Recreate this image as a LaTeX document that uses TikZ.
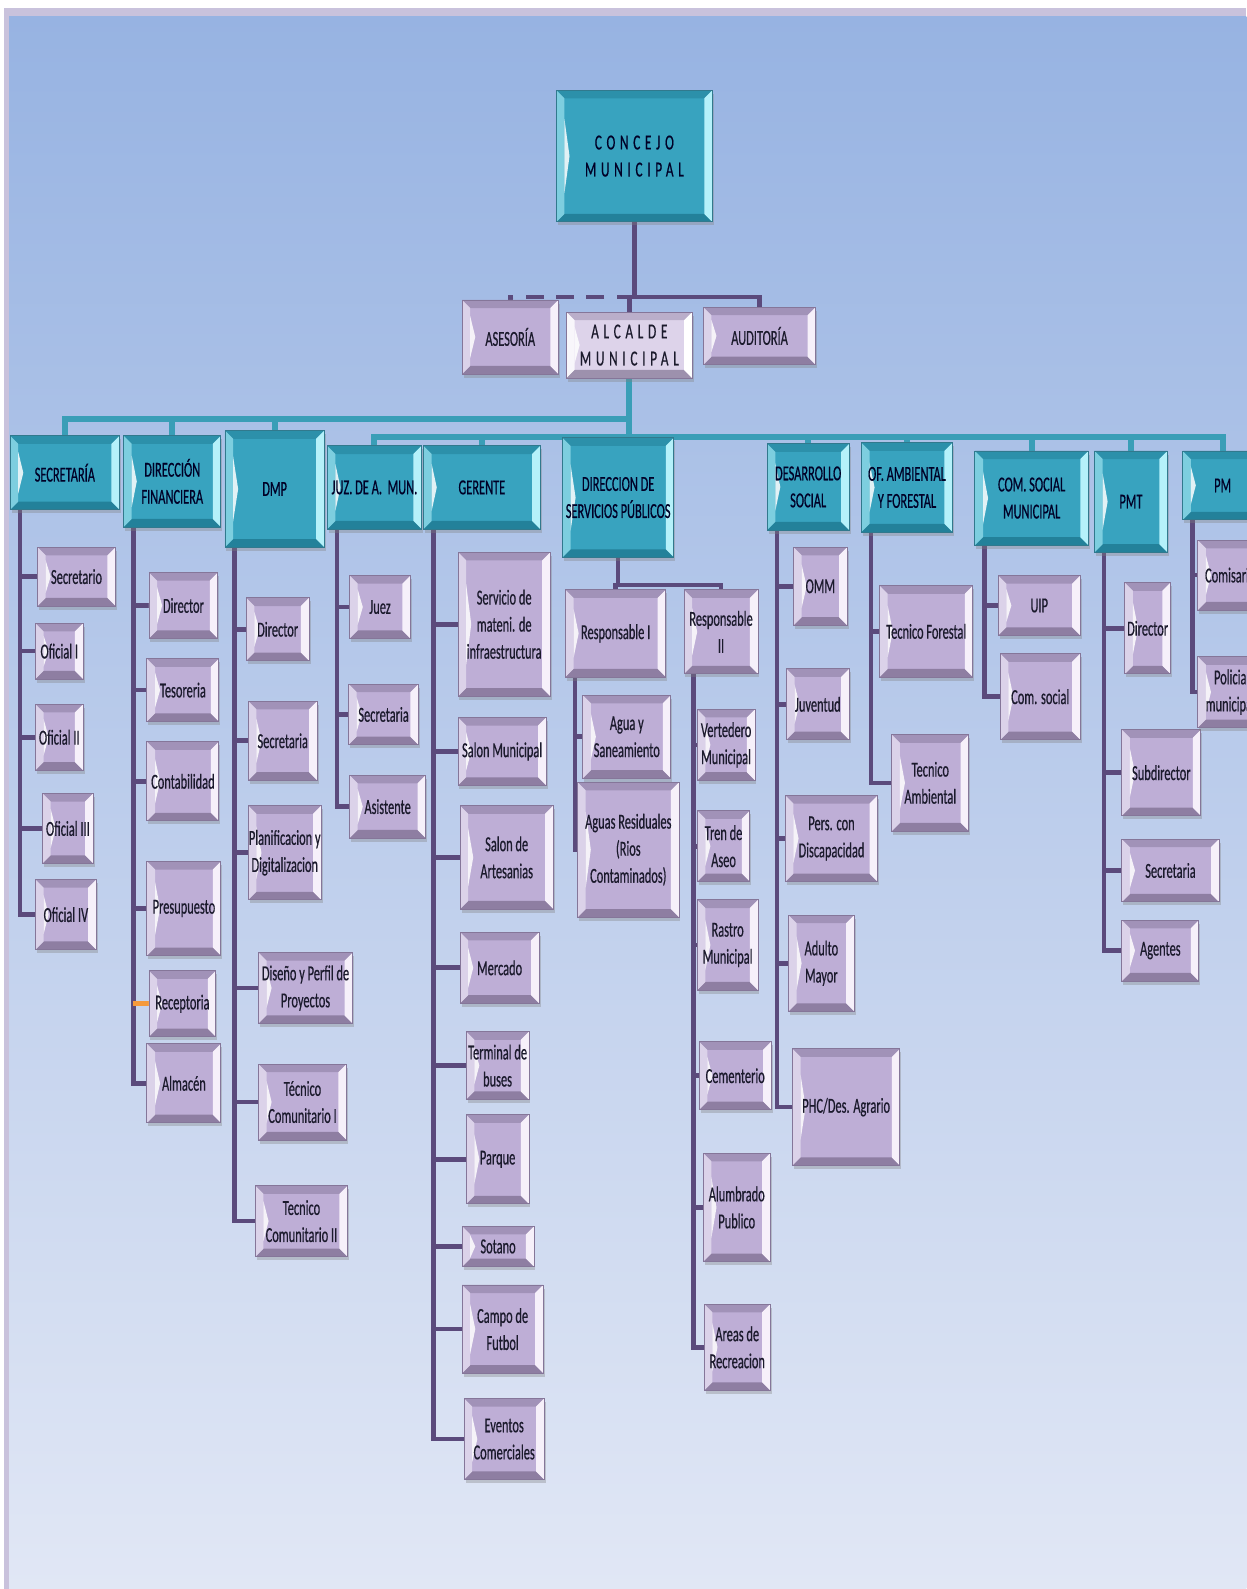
\documentclass[tikz,border=0pt]{standalone}
\usepackage{fontspec}
\setmainfont{Carlito}[FakeStretch=0.58,FakeBold=0.5]
\newfontfamily\wideletters{Carlito}[FakeStretch=0.62,FakeBold=0.5,LetterSpace=22]
\usetikzlibrary{calc,shadows,backgrounds}

\definecolor{bgtop}{HTML}{97B3E2}
\definecolor{bgbot}{HTML}{E1E7F5}
\definecolor{framelav}{HTML}{C9C2DC}
\definecolor{headfill}{HTML}{38A3BF}
\definecolor{headhi}{HTML}{B5F1FA}
\definecolor{headdark}{HTML}{1E7890}
\definecolor{subfill}{HTML}{BEAED6}
\definecolor{subhi}{HTML}{F6F0FA}
\definecolor{subdark}{HTML}{857699}
\definecolor{alcfill}{HTML}{DDD3EA}
\definecolor{linkpurple}{HTML}{5B4A7C}
\definecolor{linkteal}{HTML}{3A9EB7}
\definecolor{stuborange}{HTML}{F59A3C}
\definecolor{txtdark}{HTML}{1B1A2C}

\def\bev{1.6mm}
% bevel of a box: top, bottom, left, right colours
\newcommand\bevelfx[4]{%
  \path (path picture bounding box.south west) coordinate (pbsw)
        (path picture bounding box.north east) coordinate (pbne)
        (path picture bounding box.north west) coordinate (pbnw)
        (path picture bounding box.south east) coordinate (pbse);
  \fill[#1] (pbnw) -- (pbne) -- ($(pbne)+(-\bev,-\bev)$) -- ($(pbnw)+(\bev,-\bev)$) -- cycle;
  \fill[#2] (pbsw) -- (pbse) -- ($(pbse)+(-\bev,\bev)$) -- ($(pbsw)+(\bev,\bev)$) -- cycle;
  \fill[#3] (pbnw) -- (pbsw) -- ($(pbsw)+(\bev,\bev)$) -- ($(pbnw)+(\bev,-\bev)$) -- cycle;
  \fill[#4] (pbne) -- (pbse) -- ($(pbse)+(-\bev,\bev)$) -- ($(pbne)+(-\bev,-\bev)$) -- cycle;
  \fill[white,opacity=.85] ($(pbsw)!.22!(pbnw)+(\bev,0)$) -- ($(pbsw)!.5!(pbnw)+(\bev+1mm,0)$)
        -- ($(pbsw)!.78!(pbnw)+(\bev,0)$) -- cycle;
}

% one box from its corners (x1,y1) (x2,y2) in picture units
\newcommand\orgbox[7]{%
  \node[#1, minimum width={(#5-#3)*0.02cm}, minimum height={(#6-#4)*0.02cm}]
    (#2) at ({(#3+#5)/2},{(#4+#6)/2}) {#7};}

\begin{document}
\begin{tikzpicture}[x=0.02cm, y=-0.02cm,
    base/.style={rectangle, inner sep=0pt, align=center, text=txtdark,
      font=\fontsize{12}{15.2}\selectfont, line width=.5pt,
      drop shadow={shadow xshift=.8pt, shadow yshift=-2pt, opacity=.35}},
    head/.style={base, fill=headfill, draw=headdark!80!gray, text=black!85!blue,
      path picture={\bevelfx{headdark!45!headfill}{headdark!80!headfill}{headhi!55!headfill}{headhi}}},
    sub/.style={base, fill=subfill, draw=subdark,
      path picture={\bevelfx{subdark!50!subfill}{subdark!85!subfill}{subfill!55!white}{subhi}}},
    alcbox/.style={base, fill=alcfill, draw=subdark,
      path picture={\bevelfx{subdark!40!alcfill}{subdark!80}{white!80!alcfill}{white}}},
    link/.style={draw=linkpurple, line width=2.6pt},
    tlink/.style={draw=linkteal, line width=3.4pt},
    orangestub/.style={draw=stuborange, line width=2.6pt}]
\useasboundingbox (0,0) rectangle (1230,1568);

\begin{scope}[on background layer]
  \fill[white] (0,0) rectangle (1230,1568);
  \fill[framelav] (4,8) rectangle (1230,1568);
  \shade[top color=bgtop, bottom color=bgbot] (9,16) rectangle (1230,1568);
\end{scope}

% top of the chart
\orgbox{head}{concejo}{549}{89}{703}{219}{\wideletters CONCEJO\\\wideletters MUNICIPAL}
\orgbox{sub}{asesoria}{456}{296}{551}{369}{ASESORÍA}
\orgbox{alcbox}{alcalde}{559}{308}{683}{373}{\wideletters ALCALDE\\\wideletters MUNICIPAL}
\orgbox{sub}{auditoria}{694}{303}{805}{360}{AUDITORÍA}

% departments
\orgbox{head}{sec}{10}{430}{118}{503}{SECRETARÍA}
\orgbox{head}{dfin}{122}{430}{218}{520}{DIRECCIÓN\\FINANCIERA}
\orgbox{head}{dmp}{222}{425}{320}{540}{DMP}
\orgbox{head}{juz}{323}{440}{416}{522}{JUZ. DE A.~~MUN.}
\orgbox{head}{ger}{418}{440}{533}{522}{GERENTE}
\orgbox{head}{dsp}{555}{432}{665}{550}{DIRECCION DE\\SERVICIOS PÚBLICOS}
\orgbox{head}{dsoc}{757}{438}{838}{523}{DESARROLLO\\SOCIAL}
\orgbox{head}{ofamb}{850}{437}{940}{525}{OF. AMBIENTAL\\Y FORESTAL}
\orgbox{head}{csm}{962}{445}{1074}{538}{COM. SOCIAL\\MUNICIPAL}
\orgbox{head}{pmt}{1080}{445}{1152}{545}{PMT}
\orgbox{head}{pm}{1167}{445}{1246}{513}{PM}

% secretaria
\orgbox{sub}{secA}{37}{540}{114}{598}{Secretario}
\orgbox{sub}{secB}{35}{615}{82}{670}{Oficial I}
\orgbox{sub}{secC}{35}{695}{82}{760}{Oficial II}
\orgbox{sub}{secD}{42}{783}{92}{852}{Oficial III}
\orgbox{sub}{secE}{35}{868}{95}{937}{Oficial IV}
% direccion financiera
\orgbox{sub}{dfA}{147}{565}{215}{630}{Director}
\orgbox{sub}{dfB}{145}{650}{216}{712}{Tesoreria}
\orgbox{sub}{dfC}{145}{732}{216}{810}{Contabilidad}
\orgbox{sub}{dfD}{145}{850}{218}{943}{Presupuesto}
\orgbox{sub}{dfE}{147}{958}{213}{1023}{Receptoria}
\orgbox{sub}{dfF}{145}{1030}{218}{1108}{Almacén}
% dmp
\orgbox{sub}{dmA}{243}{590}{305}{652}{Director}
\orgbox{sub}{dmB}{245}{692}{313}{770}{Secretaria}
\orgbox{sub}{dmC}{245}{795}{317}{888}{Planificacion y\\Digitalizacion}
\orgbox{sub}{dmD}{255}{940}{348}{1010}{Diseño y Perfil de\\Proyectos}
\orgbox{sub}{dmE}{255}{1050}{342}{1125}{Técnico\\Comunitario I}
\orgbox{sub}{dmF}{252}{1170}{343}{1240}{Tecnico\\Comunitario II}
% juzgado
\orgbox{sub}{jzA}{345}{568}{405}{630}{Juez}
\orgbox{sub}{jzB}{344}{675}{413}{735}{Secretaria}
\orgbox{sub}{jzC}{345}{765}{420}{827}{Asistente}
% gerente
\orgbox{sub}{grA}{452}{545}{543}{687}{Servicio de\\mateni. de\\infraestructura}
\orgbox{sub}{grB}{452}{708}{539}{775}{Salon Municipal}
\orgbox{sub}{grC}{454}{795}{546}{897}{Salon de\\Artesanias}
\orgbox{sub}{grD}{454}{920}{532}{990}{Mercado}
\orgbox{sub}{grE}{460}{1018}{522}{1085}{Terminal de\\buses}
\orgbox{sub}{grF}{460}{1100}{522}{1188}{Parque}
\orgbox{sub}{grG}{456}{1210}{527}{1250}{Sotano}
\orgbox{sub}{grH}{456}{1268}{536}{1355}{Campo de\\Futbol}
\orgbox{sub}{grI}{458}{1380}{537}{1460}{Eventos\\Comerciales}
% servicios publicos
\orgbox{sub}{respA}{558}{582}{657}{668}{Responsable I}
\orgbox{sub}{respB}{675}{582}{748}{665}{Responsable\\II}
\orgbox{sub}{raA}{575}{686}{662}{768}{Agua y\\Saneamiento}
\orgbox{sub}{raB}{570}{772}{670}{905}{Aguas Residuales\\(Rios\\Contaminados)}
\orgbox{sub}{rbA}{688}{700}{745}{770}{Vertedero\\Municipal}
\orgbox{sub}{rbB}{688}{800}{740}{870}{Tren de\\Aseo}
\orgbox{sub}{rbC}{688}{888}{748}{977}{Rastro\\Municipal}
\orgbox{sub}{rbD}{690}{1028}{761}{1095}{Cementerio}
\orgbox{sub}{rbE}{694}{1138}{760}{1245}{Alumbrado\\Publico}
\orgbox{sub}{rbF}{695}{1287}{760}{1372}{Areas de\\Recreacion}
% desarrollo social
\orgbox{sub}{dsA}{783}{540}{836}{617}{OMM}
\orgbox{sub}{dsB}{776}{660}{838}{730}{Juventud}
\orgbox{sub}{dsC}{775}{785}{866}{870}{Pers. con\\Discapacidad}
\orgbox{sub}{dsD}{778}{903}{843}{998}{Adulto\\Mayor}
\orgbox{sub}{dsE}{782}{1035}{888}{1150}{PHC/Des. Agrario}
% ambiental
\orgbox{sub}{ofA}{868}{578}{960}{668}{Tecnico Forestal}
\orgbox{sub}{ofB}{880}{725}{956}{820}{Tecnico\\Ambiental}
% comunicacion social
\orgbox{sub}{csA}{985}{568}{1066}{627}{UIP}
\orgbox{sub}{csB}{987}{645}{1066}{730}{Com. social}
% pmt
\orgbox{sub}{ptA}{1110}{575}{1155}{665}{Director}
\orgbox{sub}{ptB}{1107}{720}{1185}{805}{Subdirector}
\orgbox{sub}{ptC}{1107}{828}{1203}{890}{Secretaria}
\orgbox{sub}{ptD}{1107}{908}{1183}{968}{Agentes}
% pm
\orgbox{sub}{pmA}{1182}{533}{1246}{602}{Comisario}
\orgbox{sub}{pmB}{1182}{648}{1246}{718}{Policia\\municipal}

\begin{scope}[on background layer]
  % concejo and alcalde
  \coordinate (hubtop) at (626,293);
  \draw[link] (concejo.south) -- (hubtop);
  \draw[link, dash pattern=on 10pt off 7pt] (hubtop) -| (asesoria.north);
  \draw[link] (hubtop) -| (auditoria.north);
  \draw[link] (hubtop) -| (alcalde.north);
  \coordinate (hubL) at (621,413);
  \coordinate (hubR) at (621,431);
  \draw[tlink] (alcalde.south) -- (hubR);
  \foreach \d in {sec,dfin,dmp} \draw[tlink] (hubL) -| (\d.north);
  \foreach \d in {juz,ger,dsp,dsoc,ofamb,csm,pmt,pm} \draw[tlink] (hubR) -| (\d.north);

  % vertical spines
  \foreach \d in {sec,dfin,dmp,juz,ger,dsoc,ofamb,csm,pmt,pm,respA,respB}
    \path ($(\d.south west)+(10,0)$) coordinate (\d x);
  \foreach \c in {secA,secB,secC,secD,secE} \draw[link] (secx) |- (\c.west);
  \foreach \c in {dfA,dfB,dfC,dfD,dfF} \draw[link] (dfinx) |- (\c.west);
  \draw[orangestub] (dfinx |- dfE.west) -- (dfE.west);
  \foreach \c in {dmA,dmB,dmC,dmD,dmE,dmF} \draw[link] (dmpx) |- (\c.west);
  \foreach \c in {jzA,jzB,jzC} \draw[link] (juzx) |- (\c.west);
  \foreach \c in {grA,grB,grC,grD,grE,grF,grG,grH,grI} \draw[link] (gerx) |- (\c.west);
  \coordinate (dspbar) at ($(dsp.south)+(0,27)$);
  \draw[link] (dsp.south) -- (dspbar) -| (respB.north);
  \draw[link] (dspbar) -| (respA.north);
  \foreach \c in {raA,raB} \draw[link] (respAx) |- (\c.west);
  \foreach \c in {rbA,rbB,rbC,rbD,rbE,rbF} \draw[link] (respBx) |- (\c.west);
  \foreach \c in {dsA,dsB,dsC,dsD,dsE} \draw[link] (dsocx) |- (\c.west);
  \foreach \c in {ofA,ofB} \draw[link] (ofambx) |- (\c.west);
  \foreach \c in {csA,csB} \draw[link] (csmx) |- (\c.west);
  \foreach \c in {ptA,ptB,ptC,ptD} \draw[link] (pmtx) |- (\c.west);
  \foreach \c in {pmA,pmB} \draw[link] (pmx) |- (\c.west);
\end{scope}
\end{tikzpicture}
\end{document}
